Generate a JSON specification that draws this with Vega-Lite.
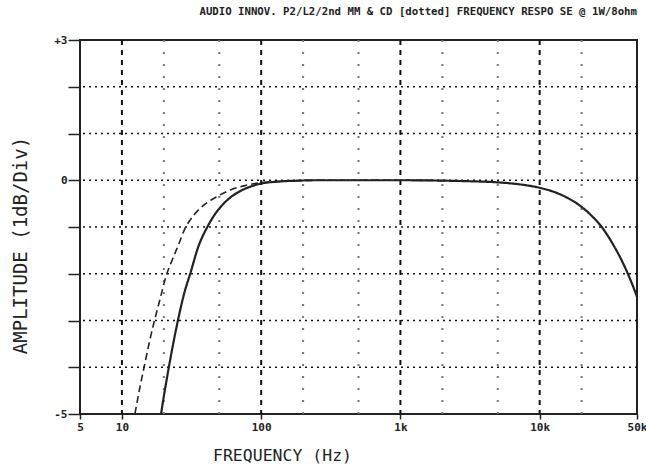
{
  "$schema": "https://vega.github.io/schema/vega-lite/v6.json",
  "autosize": "none",
  "width": 557,
  "height": 374,
  "padding": {"left": 80, "top": 40, "right": 9, "bottom": 52},
  "background": "white",
  "view": {"stroke": "#222", "strokeWidth": 2},
  "title": {
    "text": "AUDIO INNOV. P2/L2/2nd MM & CD [dotted] FREQUENCY RESPO SE @ 1W/8ohm",
    "anchor": "end",
    "frame": "group",
    "offset": 16,
    "font": "DejaVu Sans Mono",
    "fontSize": 10.7,
    "fontWeight": "bold",
    "color": "#222"
  },
  "datasets": {
    "vmajor": [{"f": 10}, {"f": 100}, {"f": 1000}, {"f": 10000}],
    "vminor": [{"f": 20}, {"f": 50}, {"f": 200}, {"f": 500}, {"f": 2000}, {"f": 5000}, {"f": 20000}],
    "hgrid": [{"db": -4}, {"db": -3}, {"db": -2}, {"db": -1}, {"db": 0}, {"db": 1}, {"db": 2}],
    "curves": [
      {"series": "MM", "f": 19.1, "db": -5},
      {"series": "MM", "f": 20, "db": -4.62},
      {"series": "MM", "f": 21, "db": -4.25},
      {"series": "MM", "f": 22.5, "db": -3.75},
      {"series": "MM", "f": 25.2, "db": -3.01},
      {"series": "MM", "f": 28, "db": -2.42},
      {"series": "MM", "f": 31.3, "db": -1.95},
      {"series": "MM", "f": 35, "db": -1.46},
      {"series": "MM", "f": 41.4, "db": -0.98},
      {"series": "MM", "f": 46, "db": -0.75},
      {"series": "MM", "f": 51.5, "db": -0.56},
      {"series": "MM", "f": 60, "db": -0.37},
      {"series": "MM", "f": 72, "db": -0.22},
      {"series": "MM", "f": 85, "db": -0.13},
      {"series": "MM", "f": 100, "db": -0.07},
      {"series": "MM", "f": 130, "db": -0.03},
      {"series": "MM", "f": 180, "db": -0.01},
      {"series": "MM", "f": 250, "db": 0},
      {"series": "MM", "f": 1000, "db": 0},
      {"series": "MM", "f": 3000, "db": -0.02},
      {"series": "MM", "f": 5000, "db": -0.045},
      {"series": "MM", "f": 7000, "db": -0.084},
      {"series": "MM", "f": 10300, "db": -0.17},
      {"series": "MM", "f": 14000, "db": -0.3},
      {"series": "MM", "f": 20000, "db": -0.57},
      {"series": "MM", "f": 24000, "db": -0.78},
      {"series": "MM", "f": 27900, "db": -1},
      {"series": "MM", "f": 33000, "db": -1.33},
      {"series": "MM", "f": 38900, "db": -1.72},
      {"series": "MM", "f": 44000, "db": -2.07},
      {"series": "MM", "f": 50000, "db": -2.49},
      {"series": "CD", "f": 12.4, "db": -5},
      {"series": "CD", "f": 13.4, "db": -4.46},
      {"series": "CD", "f": 14.5, "db": -3.97},
      {"series": "CD", "f": 15.7, "db": -3.48},
      {"series": "CD", "f": 17.1, "db": -3.01},
      {"series": "CD", "f": 18.8, "db": -2.54},
      {"series": "CD", "f": 20.7, "db": -2.06},
      {"series": "CD", "f": 23, "db": -1.7},
      {"series": "CD", "f": 25.5, "db": -1.38},
      {"series": "CD", "f": 28.1, "db": -1.06},
      {"series": "CD", "f": 33, "db": -0.74},
      {"series": "CD", "f": 40, "db": -0.5},
      {"series": "CD", "f": 48.8, "db": -0.34},
      {"series": "CD", "f": 60, "db": -0.21},
      {"series": "CD", "f": 75, "db": -0.12},
      {"series": "CD", "f": 100, "db": -0.05},
      {"series": "CD", "f": 130, "db": -0.03},
      {"series": "CD", "f": 180, "db": -0.01},
      {"series": "CD", "f": 250, "db": 0},
      {"series": "CD", "f": 1000, "db": 0},
      {"series": "CD", "f": 3000, "db": -0.02}
    ]
  },
  "encoding": {
    "x": {
      "field": "f", "type": "quantitative",
      "scale": {"type": "log", "domain": [5, 50000]},
      "title": "FREQUENCY  (Hz)",
      "axis": {
        "titleFont": "DejaVu Sans Mono",
        "titleFontSize": 16.5,
        "titleFontWeight": "normal",
        "titleColor": "#222",
        "titlePadding": 15,
        "titleX": 202,
        "values": [5, 10, 100, 1000, 10000, 50000],
        "labelExpr": "datum.value >= 1000 ? format(datum.value / 1000, 'd') + 'k' : format(datum.value, 'd')",
        "labelFont": "DejaVu Sans Mono",
        "labelFontSize": 11,
        "labelFontWeight": "bold",
        "labelColor": "#222",
        "labelFlush": false,
        "labelOverlap": false,
        "tickColor": "#222",
        "tickSize": 5,
        "tickWidth": 1.5,
        "domain": false,
        "grid": false
      }
    },
    "y": {
      "field": "db", "type": "quantitative",
      "scale": {"domain": [-5, 3], "zero": false, "nice": false},
      "title": "AMPLITUDE  (1dB/Div)",
      "axis": {
        "titleFont": "DejaVu Sans Mono",
        "titleFontSize": 19,
        "titleFontWeight": "normal",
        "titleColor": "#222",
        "titlePadding": 23,
        "titleY": 205,
        "values": [-5, -4, -3, -2, -1, 0, 1, 2, 3],
        "labelExpr": "datum.value == 3 ? '+3' : datum.value == 0 ? '0' : datum.value == -5 ? '-5' : ''",
        "labelFont": "DejaVu Sans Mono",
        "labelFontSize": 11,
        "labelFontWeight": "bold",
        "labelColor": "#222",
        "labelPadding": 1,
        "tickColor": "#222",
        "tickSize": 12,
        "tickWidth": 1.5,
        "domain": false,
        "grid": false
      }
    }
  },
  "layer": [
    {
      "data": {"name": "vminor"},
      "mark": {"type": "rule", "color": "#777", "strokeWidth": 2, "strokeDash": [2, 10]},
      "encoding": {"y": null}
    },
    {
      "data": {"name": "hgrid"},
      "mark": {"type": "rule", "color": "#111", "strokeWidth": 1.5, "strokeDash": [2, 4]},
      "encoding": {"x": null}
    },
    {
      "data": {"name": "vmajor"},
      "mark": {"type": "rule", "color": "#111", "strokeWidth": 2, "strokeDash": [5, 5]},
      "encoding": {"y": null}
    },
    {
      "data": {"name": "curves"},
      "mark": {"type": "line", "interpolate": "monotone", "clip": true},
      "encoding": {
        "detail": {"field": "series"},
        "strokeDash": {
          "field": "series", "type": "nominal",
          "scale": {"domain": ["MM", "CD"], "range": [[1, 0], [7, 4]]},
          "legend": null
        },
        "strokeWidth": {
          "field": "series", "type": "nominal",
          "scale": {"domain": ["MM", "CD"], "range": [2.2, 1.6]},
          "legend": null
        },
        "color": {"value": "#222"}
      }
    }
  ]
}
